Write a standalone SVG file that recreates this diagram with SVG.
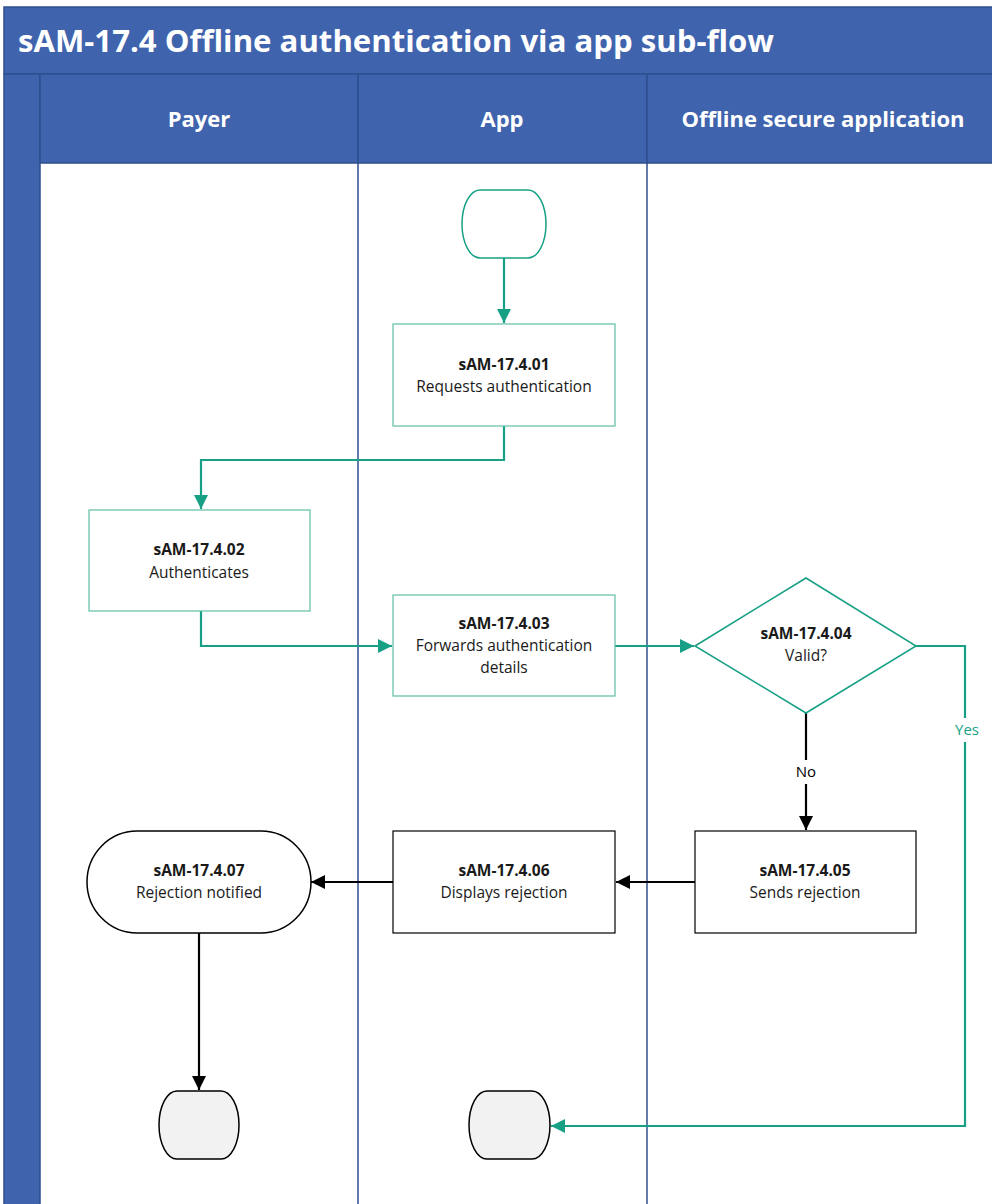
<svg xmlns="http://www.w3.org/2000/svg" width="992" height="1204" viewBox="0 0 992 1204">
  <style>
    .band { fill: #3f63ad; stroke: #2f4f8f; stroke-width: 1.5; }
    .lane { stroke: #2f4f8f; stroke-width: 1.5; fill: none; }
    .title { font-family: "Open Sans", "Liberation Sans", sans-serif; font-weight: bold; font-size: 30px; fill: #ffffff; }
    .head { font-family: "Open Sans", "Liberation Sans", sans-serif; font-weight: bold; font-size: 22px; fill: #ffffff; text-anchor: middle; }
    .t { font-family: "Open Sans", "Liberation Sans", sans-serif; font-size: 15.5px; fill: #1a1a1a; text-anchor: middle; }
    .b { font-weight: bold; }
    .tealbox { fill: #ffffff; stroke: #5fbfa6; stroke-width: 1.2; }
    .blackbox { fill: #ffffff; stroke: #000000; stroke-width: 1.2; }
    .endbox { fill: #f2f2f2; stroke: #000000; stroke-width: 1.5; }
    .teal { stroke: #17a085; stroke-width: 2.2; fill: none; }
    .black { stroke: #000000; stroke-width: 2.2; fill: none; }
    .lbl { font-family: "Open Sans", "Liberation Sans", sans-serif; font-size: 15px; text-anchor: middle; }
  </style>
  <defs>
    <marker id="ahTeal" viewBox="0 0 10 10" refX="10" refY="5" markerWidth="16" markerHeight="14" markerUnits="userSpaceOnUse" orient="auto">
      <path d="M0,0 L10,5 L0,10 z" fill="#17a085"/>
    </marker>
    <marker id="ahBlack" viewBox="0 0 10 10" refX="10" refY="5" markerWidth="16" markerHeight="14" markerUnits="userSpaceOnUse" orient="auto">
      <path d="M0,0 L10,5 L0,10 z" fill="#000000"/>
    </marker>
  </defs>
  <rect width="992" height="1204" fill="#ffffff"/>

  <!-- pool frame: title band, left strip, lane headers -->
  <g id="pool">
    <rect class="band" x="4" y="7" width="990" height="67"/>
    <text class="title" x="18" y="52" textLength="756" lengthAdjust="spacingAndGlyphs">sAM-17.4 Offline authentication via app sub-flow</text>
    <rect class="band" x="4" y="74" width="36" height="1132"/>
    <rect class="band" x="40" y="74" width="318" height="89"/>
    <rect class="band" x="358" y="74" width="289" height="89"/>
    <rect class="band" x="647" y="74" width="347" height="89"/>
    <text class="head" x="199" y="127">Payer</text>
    <text class="head" x="502" y="127">App</text>
    <text class="head" x="823" y="127">Offline secure application</text>
    <line class="lane" x1="358" y1="163" x2="358" y2="1204"/>
    <line class="lane" x1="647" y1="163" x2="647" y2="1204"/>
  </g>

  <!-- connectors -->
  <g id="connectors">
    <path class="teal" d="M504,258 V323" marker-end="url(#ahTeal)"/>
    <path class="teal" d="M504,426 V460 H201 V509" marker-end="url(#ahTeal)"/>
    <path class="teal" d="M201,611 V646 H392" marker-end="url(#ahTeal)"/>
    <path class="teal" d="M615,646 H694" marker-end="url(#ahTeal)"/>
    <path class="teal" d="M916,646 H965 V1126 H551" marker-end="url(#ahTeal)"/>
    <path class="black" d="M806,713 V830" marker-end="url(#ahBlack)"/>
    <path class="black" d="M695,882 H616" marker-end="url(#ahBlack)"/>
    <path class="black" d="M393,882 H311" marker-end="url(#ahBlack)"/>
    <path class="black" d="M199,933 V1090" marker-end="url(#ahBlack)"/>
    <rect x="951" y="718" width="30" height="24" fill="#ffffff"/>
    <text class="lbl" x="967" y="735" fill="#17a085">Yes</text>
    <rect x="793" y="760" width="26" height="24" fill="#ffffff"/>
    <text class="lbl" x="806" y="777" fill="#000000">No</text>
  </g>

  <g id="start">
    <path d="M480,190 H528 A18,34 0 0 1 528,258 H480 A18,34 0 0 1 480,190 Z" fill="#ffffff" stroke="#17a085" stroke-width="1.5"/>
  </g>

  <g id="n01">
    <rect class="tealbox" x="393" y="324" width="222" height="102"/>
    <text class="t b" x="504" y="370">sAM-17.4.01</text>
    <text class="t" x="504" y="392">Requests authentication</text>
  </g>

  <g id="n02">
    <rect class="tealbox" x="89" y="510" width="221" height="101"/>
    <text class="t b" x="199" y="555">sAM-17.4.02</text>
    <text class="t" x="199" y="578">Authenticates</text>
  </g>

  <g id="n03">
    <rect class="tealbox" x="393" y="595" width="222" height="101"/>
    <text class="t b" x="504" y="629">sAM-17.4.03</text>
    <text class="t" x="504" y="651">Forwards authentication</text>
    <text class="t" x="504" y="673">details</text>
  </g>

  <g id="n04">
    <polygon points="695,646 806,578 916,646 806,713" fill="#ffffff" stroke="#17a085" stroke-width="1.5"/>
    <text class="t b" x="806" y="639">sAM-17.4.04</text>
    <text class="t" x="806" y="661">Valid?</text>
  </g>

  <g id="n05">
    <rect class="blackbox" x="695" y="831" width="221" height="102"/>
    <text class="t b" x="805" y="876">sAM-17.4.05</text>
    <text class="t" x="805" y="898">Sends rejection</text>
  </g>

  <g id="n06">
    <rect class="blackbox" x="393" y="831" width="222" height="102"/>
    <text class="t b" x="504" y="876">sAM-17.4.06</text>
    <text class="t" x="504" y="898">Displays rejection</text>
  </g>

  <g id="n07">
    <path d="M137,831 H261 A50,51 0 0 1 261,933 H137 A50,51 0 0 1 137,831 Z" fill="#ffffff" stroke="#000000" stroke-width="1.5"/>
    <text class="t b" x="199" y="876">sAM-17.4.07</text>
    <text class="t" x="199" y="898">Rejection notified</text>
  </g>

  <g id="end1">
    <path d="M177,1091 H221 A18,34 0 0 1 221,1159 H177 A18,34 0 0 1 177,1091 Z" class="endbox"/>
  </g>

  <g id="end2">
    <path d="M487,1091 H532 A18,34 0 0 1 532,1159 H487 A18,34 0 0 1 487,1091 Z" class="endbox"/>
  </g>
</svg>
